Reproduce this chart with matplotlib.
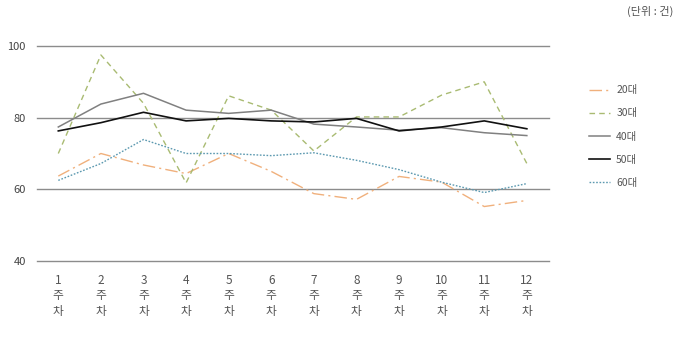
import numpy as np
import matplotlib
matplotlib.use("Agg")
from matplotlib import pyplot as plt

plt.rcParams['font.family'] = ['Noto Sans CJK KR', 'DejaVu Sans']

weeks = list(range(1, 13))
week_labels = [f"{w}\n주\n차" for w in weeks]

s20 = [63.7, 70.0, 66.8, 64.4, 70.0, 65.0, 58.8, 57.2, 63.6, 62.0, 55.2, 56.9]
s30 = [70.0, 97.5, 84.0, 61.8, 86.1, 82.1, 70.7, 80.2, 80.2, 86.3, 90.0, 67.2]
s40 = [77.4, 83.8, 86.8, 82.1, 81.2, 82.1, 78.2, 77.4, 76.5, 77.2, 75.8, 75.0]
s50 = [76.3, 78.6, 81.5, 79.1, 79.8, 79.1, 78.8, 79.8, 76.3, 77.4, 79.1, 76.9]
s60 = [62.5, 67.2, 73.9, 70.0, 70.0, 69.4, 70.2, 68.1, 65.5, 62.0, 59.1, 61.6]

series_names = ['20대', '30대', '40대', '50대', '60대']
yticks = [40, 60, 80, 100]

fig = plt.figure(figsize=(6.8, 3.37), dpi=100)
ax = fig.add_axes([37 / 680, 1 - 261 / 337, (549 - 37) / 680, (261 - 46) / 337])

ax.set_xlim(0.5, 12.52)
ax.set_ylim(40, 100)
for v in yticks:
    ax.axhline(v, color='#8c8c8c', lw=1.0, zorder=1, clip_on=False)

ax.plot(weeks, s20, color='#f0b07c', lw=1.0, ls=(0, (9, 3, 1.5, 3)), label=series_names[0], zorder=3)
ax.plot(weeks, s30, color='#a9bb72', lw=1.0, ls=(0, (4, 3)), label=series_names[1], zorder=3)
ax.plot(weeks, s40, color='#808080', lw=1.1, ls='-', label=series_names[2], zorder=3)
ax.plot(weeks, s50, color='#111111', lw=1.2, ls='-', label=series_names[3], zorder=4)
ax.plot(weeks, s60, color='#5c99b0', lw=1.0, ls=(0, (1.2, 1.2)), label=series_names[4], zorder=3)

ax.set_yticks(yticks)
ax.set_yticklabels([str(v) for v in yticks], fontsize=8, color='#444444')
ax.set_xticks(weeks)
ax.set_xticklabels(week_labels, fontsize=8.5, color='#555555', linespacing=1.3)
ax.tick_params(axis='both', length=0)
ax.tick_params(axis='x', pad=9)
ax.tick_params(axis='y', pad=8)
for sp in ax.spines.values():
    sp.set_visible(False)

leg = ax.legend(loc='upper left', bbox_to_anchor=(1.06, 0.86), frameon=False,
                fontsize=7.5, handlelength=2.0, handletextpad=0.6,
                labelspacing=1.25, labelcolor='#555555')

fig.text(0.99, 0.965, '(단위 : 건)', ha='right', va='center', fontsize=8, color='#555555')

fig.savefig('out.png', dpi=100)
